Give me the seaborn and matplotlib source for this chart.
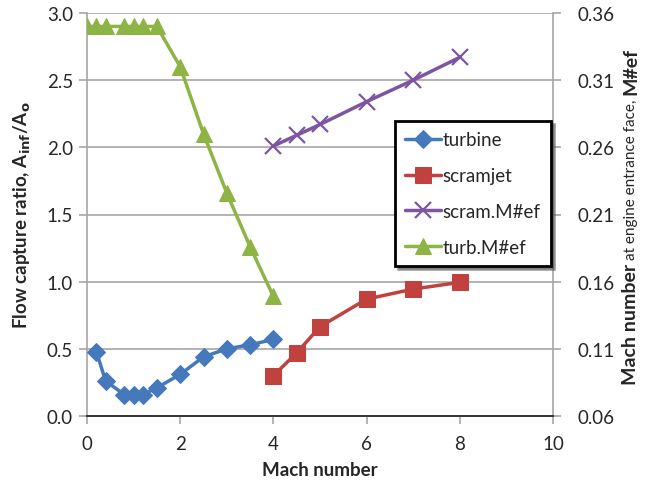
import matplotlib
matplotlib.use("Agg")
import matplotlib.pyplot as plt
import seaborn as sns
import pandas as pd

# ---- data ----
turbine_x = [0.2, 0.4, 0.8, 1.0, 1.2, 1.5, 2.0, 2.5, 3.0, 3.5, 4.0]
turbine_y = [0.48, 0.26, 0.16, 0.16, 0.16, 0.21, 0.31, 0.44, 0.50, 0.53, 0.57]

scramjet_x = [4.0, 4.5, 5.0, 6.0, 7.0, 8.0]
scramjet_y = [0.30, 0.47, 0.665, 0.87, 0.945, 0.995]

scram_mef_x = [4.0, 4.5, 5.0, 6.0, 7.0, 8.0]
scram_mef_y = [0.261, 0.269, 0.277, 0.294, 0.310, 0.327]   # right axis units

turb_mef_x = [0.0, 0.2, 0.4, 0.8, 1.0, 1.2, 1.5, 2.0, 2.5, 3.0, 3.5, 4.0]
turb_mef_y = [0.35, 0.35, 0.35, 0.35, 0.35, 0.35, 0.35, 0.32, 0.27, 0.226, 0.186, 0.149]  # right axis units

left_ticks = [0.0, 0.5, 1.0, 1.5, 2.0, 2.5, 3.0]
right_ticks = [0.06, 0.11, 0.16, 0.21, 0.26, 0.31, 0.36]
x_ticks = [0, 2, 4, 6, 8, 10]

sns.set_theme(style="white")
FONT = ["Lato", "DejaVu Sans"]
plt.rcParams["font.family"] = FONT

BLUE = "#4579BC"
RED = "#C0413E"
PURPLE = "#7D55A3"
GREEN = "#8DB445"
GRID = "#A6A6A6"

fig = plt.figure(figsize=(6.47, 4.89), dpi=100)
ax = fig.add_axes([87/647, 1-417/489, (553-87)/647, (417-14)/489])
ax2 = ax.twinx()

df_t = pd.DataFrame({"x": turbine_x, "y": turbine_y})
df_s = pd.DataFrame({"x": scramjet_x, "y": scramjet_y})
df_sm = pd.DataFrame({"x": scram_mef_x, "y": scram_mef_y})
df_tm = pd.DataFrame({"x": turb_mef_x, "y": turb_mef_y})

sns.lineplot(data=df_t, x="x", y="y", ax=ax, color=BLUE, lw=2.5, marker="D",
             markersize=9, markeredgecolor=BLUE, label="turbine", zorder=5)
sns.lineplot(data=df_s, x="x", y="y", ax=ax, color=RED, lw=2.5, marker="s",
             markersize=12, markeredgecolor=RED, label="scramjet", zorder=5)
sns.lineplot(data=df_sm, x="x", y="y", ax=ax2, color=PURPLE, lw=2.5, marker="x",
             markersize=11, markeredgewidth=1.6, markeredgecolor=PURPLE,
             label="scram.M#ef", zorder=5)
sns.lineplot(data=df_tm, x="x", y="y", ax=ax2, color=GREEN, lw=2.5, marker="^",
             markersize=12, markeredgecolor=GREEN, label="turb.M#ef", zorder=5)

ax.set_xlim(0, 10)
ax.set_ylim(0, 3.0)
ax2.set_ylim(0.06, 0.36)
ax.set_xticks(x_ticks)
ax.set_yticks(left_ticks)
ax.set_yticklabels([f"{v:.1f}" for v in left_ticks])
ax2.set_yticks(right_ticks)
ax2.set_yticklabels([f"{v:.2f}" for v in right_ticks])

ax.yaxis.grid(True, color=GRID, lw=1.2)
ax.set_axisbelow(True)
for a in (ax, ax2):
    a.spines["top"].set_visible(False)
ax.spines["right"].set_visible(False)
ax2.spines["left"].set_visible(False)
for sp in (ax2.spines["right"], ax.spines["left"], ax.spines["bottom"]):
    sp.set_color(GRID)
    sp.set_linewidth(1.2)

ax.tick_params(axis="x", direction="out", length=6, width=1.2, color=GRID,
               labelsize=13.5, pad=8, bottom=True)
ax.tick_params(axis="y", direction="out", length=6, width=1.2, color=GRID,
               labelsize=13.5, pad=4, left=True)
ax2.tick_params(axis="y", direction="out", length=6, width=1.2, color=GRID,
                labelsize=13.5, pad=12, right=True)

ax.set_xlabel("Mach number", fontsize=13.5, fontweight="bold", labelpad=6)
ax.set_ylabel(r"Flow capture ratio, A$_{\mathbf{inf}}$/A$_{\mathbf{o}}$",
              fontsize=13.5, fontweight="bold", labelpad=10)
ax2.set_ylabel("")

h1, l1 = ax.get_legend_handles_labels()
h2, l2 = ax2.get_legend_handles_labels()
ax.get_legend().remove()
ax2.get_legend().remove()
leg = ax2.legend(h1 + h2, l1 + l2, loc="upper left",
                 bbox_to_anchor=((395-87)/466, 1-(122-14)/403),
                 frameon=True, fancybox=False, shadow=True, fontsize=13.5,
                 handlelength=1.9, handletextpad=0.1, borderpad=0.55,
                 labelspacing=1.0, borderaxespad=0)
leg.get_frame().set_edgecolor("black")
leg.get_frame().set_linewidth(2.0)
leg.set_zorder(10)

# right axis label, mixed styles, placed one after another
xr = 631/647
renderer = fig.canvas.get_renderer()
ypos = 1 - 385/489
parts = [("Mach number", 14, "bold"),
         ("at engine entrance face,", 11, "normal"),
         ("M#ef", 14, "bold")]
for txt, fs, fw in parts:
    t = fig.text(xr, ypos, txt, rotation=90, ha="center", va="bottom",
                 fontsize=fs, fontweight=fw)
    bb = t.get_window_extent(renderer=renderer)
    ypos += (bb.height + 4) / fig.bbox.height

fig.savefig("out.png", dpi=100)
